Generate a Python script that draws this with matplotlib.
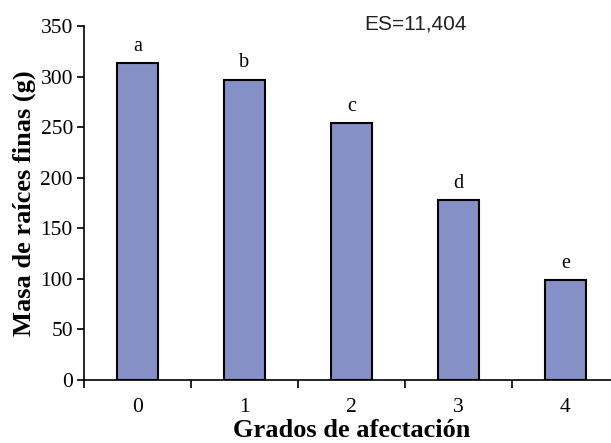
import numpy as np
import matplotlib.pyplot as plt

grados = ["0", "1", "2", "3", "4"]
masa = [313, 297, 254, 178, 99]
letras = ["a", "b", "c", "d", "e"]
es_txt = "ES=11,404"

serif = "Liberation Serif"
color_barra = "#8590c6"

fig = plt.figure(figsize=(6.11, 4.43), dpi=100)
# x axis runs past the right border, as in the original
ax = fig.add_axes([84/611, 1-380/443, 535/611, 354/443])

x = np.arange(len(grados))
ax.bar(x, masa, width=0.39, color=color_barra, edgecolor="black", linewidth=1.5, zorder=2)

for xi, v, l in zip(x, masa, letras):
    ax.text(xi, v + 12, l, ha="center", va="baseline", fontsize=14.5, family=serif)

ax.set_xlim(-0.5, 4.5)
ax.set_ylim(0, 350)
ax.set_yticks(np.arange(0, 351, 50))
ax.set_yticklabels([str(v) for v in range(0, 351, 50)], family=serif, fontsize=15.5)

# tick marks at category boundaries, labels at centers
ax.set_xticks(np.arange(-0.5, 5, 1))
ax.set_xticklabels([])
ax.set_xticks(x, minor=True)
ax.set_xticklabels(grados, minor=True, family=serif, fontsize=15.5)
ax.tick_params(axis="x", which="minor", length=0, pad=13)
ax.tick_params(axis="x", which="major", length=6, width=1.2, direction="out")
ax.tick_params(axis="y", length=5, width=1.2, direction="out", pad=3)

for s in ["top", "right"]:
    ax.spines[s].set_visible(False)
ax.spines["left"].set_linewidth(1.2)
ax.spines["bottom"].set_linewidth(1.2)

ax.set_xlabel("Grados de afectación", family=serif, fontsize=19, fontweight="bold", labelpad=1.5)
ax.set_ylabel("Masa de raíces finas (g)", family=serif, fontsize=19, fontweight="bold", labelpad=3)

fig.text(416/611, 1-24/443, es_txt, ha="center", va="center", fontsize=15, family="Liberation Sans", color="#222222")

fig.savefig("out.png", dpi=100)
